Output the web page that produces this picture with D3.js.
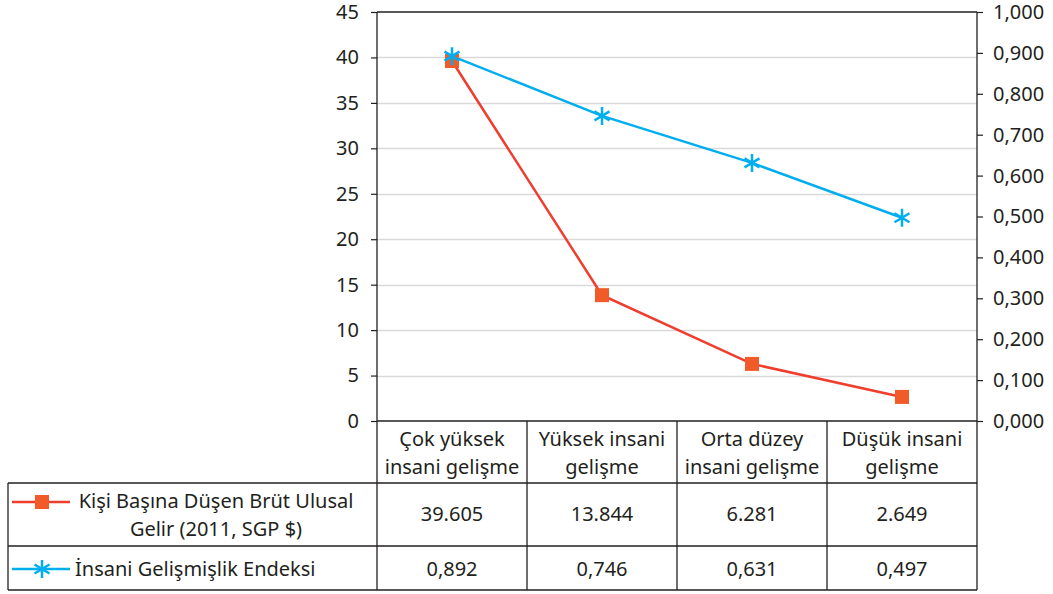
<!DOCTYPE html>
<html><head><meta charset="utf-8">
<script src="https://cdn.jsdelivr.net/npm/d3@7"></script>
<style>
html,body{margin:0;padding:0;background:#fff;}
svg{display:block;font-family:"Noto Sans","Open Sans",sans-serif;}
</style></head>
<body>
<svg id="c" width="1053" height="594"></svg>
<script>
const categories = [["Çok yüksek","insani gelişme"],["Yüksek insani","gelişme"],["Orta düzey","insani gelişme"],["Düşük insani","gelişme"]];
const gniValues = [39605, 13844, 6281, 2649];
const hdiValues = [0.892, 0.746, 0.631, 0.497];
const leftTicks = [0,5,10,15,20,25,30,35,40,45];
const rightTicks = [0,0.1,0.2,0.3,0.4,0.5,0.6,0.7,0.8,0.9,1.0];
const seriesNames = [["Kişi Başına Düşen Brüt Ulusal","Gelir (2011, SGP $)"],["İnsani Gelişmişlik Endeksi"]];

const tr = d3.formatLocale({decimal:",", thousands:".", grouping:[3], currency:["","$"]});
const fmtGni = tr.format(",d");
const fmtHdi = tr.format(".3f");

const svg = d3.select("#c");
const xL=377, xR=977, yT=12, yB=421;
const tL=8, rowH=483, row1=546, row2=590;
const ink="#231f20", red="#ef3e2d", redM="#f15a29", blue="#00aeef", grid="#d9d9d9";
const FS=20;

const x = d3.scaleBand().domain(d3.range(categories.length)).range([xL,xR]).padding(0);
const yL = d3.scaleLinear().domain([0,45]).range([yB,yT]);
const yR = d3.scaleLinear().domain([0,1]).range([yB,yT]);
const cx = i => x(i)+x.bandwidth()/2;

// gridlines
svg.append("g").selectAll("line").data(leftTicks.filter(t=>t>0&&t<45)).join("line")
  .attr("x1",xL).attr("x2",xR).attr("y1",d=>Math.round(yL(d))+0.5).attr("y2",d=>Math.round(yL(d))+0.5)
  .attr("stroke",grid).attr("stroke-width",1.5);

// axes
const axL = svg.append("g").attr("transform",`translate(${xL},0)`)
  .call(d3.axisLeft(yL).tickValues(leftTicks).tickSize(6).tickPadding(12).tickFormat(d3.format("d")));
const axR = svg.append("g").attr("transform",`translate(${xR},0)`)
  .call(d3.axisRight(yR).tickValues(rightTicks).tickSize(6).tickPadding(10).tickFormat(fmtHdi));
[axL,axR].forEach(a=>{
  a.select(".domain").remove();
  a.selectAll("line").attr("stroke",ink).attr("stroke-width",1.2);
  a.selectAll("text").attr("font-size",FS).attr("fill",ink).attr("font-family","Noto Sans");
});

// frame & table lines
const L = (x1,y1,x2,y2)=>svg.append("line").attr("x1",x1).attr("y1",y1).attr("x2",x2).attr("y2",y2).attr("stroke",ink).attr("stroke-width",1.3);
L(xL,yT,xR,yT);
L(xL,yT,xL,row2);
L(xR,yT,xR,row2);
L(xL,yB,xR,yB);
L(tL,rowH,xR,rowH);
L(tL,row1,xR,row1);
L(tL,row2,xR,row2);
L(tL,rowH,tL,row2);
for(let i=1;i<categories.length;i++) L(x(i),yB,x(i),row2);

// header text
const hg = svg.append("g").attr("font-size",FS).attr("fill",ink).attr("text-anchor","middle");
categories.forEach((c,i)=>{
  c.forEach((t,j)=>hg.append("text").attr("x",cx(i)).attr("y",446+j*28).text(t));
});
// values
gniValues.forEach((v,i)=>hg.append("text").attr("x",cx(i)).attr("y",521).text(fmtGni(v)));
hdiValues.forEach((v,i)=>hg.append("text").attr("x",cx(i)).attr("y",576).text(fmtHdi(v)));

// series labels
hg.append("text").attr("x",216).attr("y",508).text(seriesNames[0][0]);
hg.append("text").attr("x",216).attr("y",536).text(seriesNames[0][1]);
hg.append("text").attr("x",75).attr("y",576).attr("text-anchor","start").text(seriesNames[1][0]);

// star path
const starPath = "M0,-9V9M-7.5,-4.5L7.5,4.5M-7.5,4.5L7.5,-4.5";

// legend keys
svg.append("line").attr("x1",12).attr("x2",70).attr("y1",502).attr("y2",502).attr("stroke",red).attr("stroke-width",2.5);
svg.append("rect").attr("x",35).attr("y",495).attr("width",14).attr("height",14).attr("fill",redM);
svg.append("line").attr("x1",12).attr("x2",70).attr("y1",569).attr("y2",569).attr("stroke",blue).attr("stroke-width",2.5);
svg.append("path").attr("d",starPath).attr("transform","translate(42,569)").attr("stroke",blue).attr("stroke-width",2.5).attr("fill","none");

// lines
const lineR = d3.line().x((d,i)=>cx(i)).y(d=>yL(d/1000));
const lineB = d3.line().x((d,i)=>cx(i)).y(d=>yR(d));
svg.append("path").datum(hdiValues).attr("d",lineB).attr("fill","none").attr("stroke",blue).attr("stroke-width",2.5);
svg.append("path").datum(gniValues).attr("d",lineR).attr("fill","none").attr("stroke",red).attr("stroke-width",2.5);

svg.append("g").selectAll("rect").data(gniValues).join("rect")
  .attr("x",(d,i)=>cx(i)-7).attr("y",d=>yL(d/1000)-7).attr("width",14).attr("height",14).attr("fill",redM);
svg.append("g").selectAll("path").data(hdiValues).join("path")
  .attr("d",starPath).attr("transform",(d,i)=>`translate(${cx(i)},${yR(d)})`)
  .attr("stroke",blue).attr("stroke-width",2.5).attr("fill","none");
</script>
</body></html>
